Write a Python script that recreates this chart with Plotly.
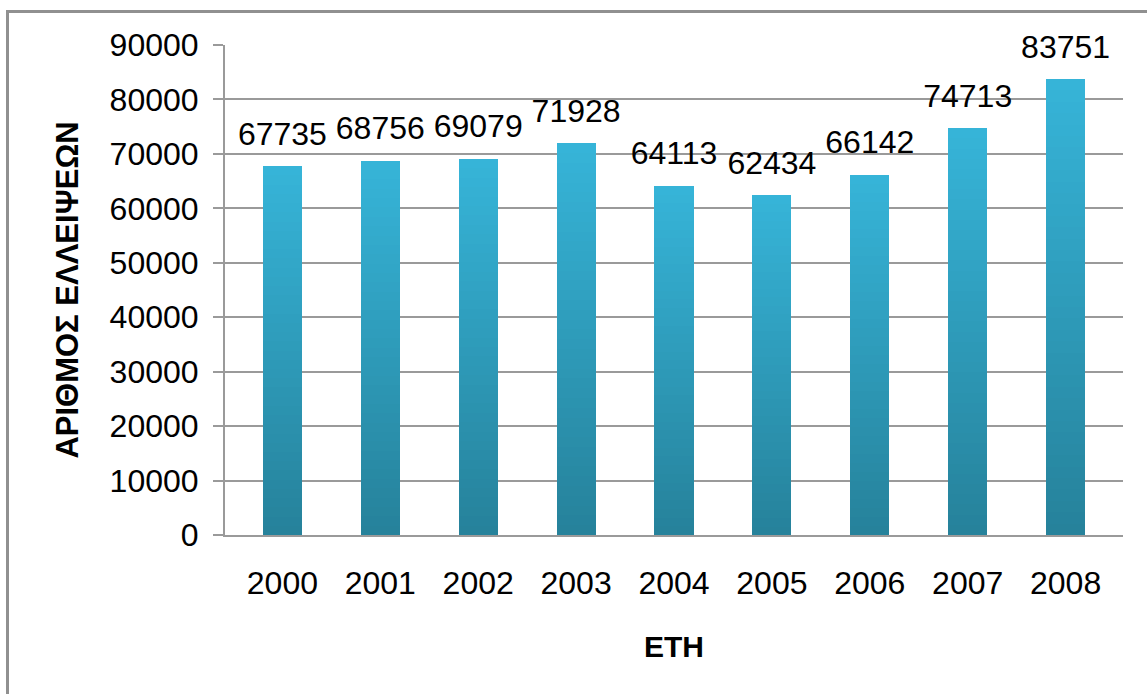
import plotly.graph_objects as go

years = ["2000", "2001", "2002", "2003", "2004", "2005", "2006", "2007", "2008"]
counts = [67735, 68756, 69079, 71928, 64113, 62434, 66142, 74713, 83751]

y_title = "ΑΡΙΘΜΟΣ ΕΛΛΕΙΨΕΩΝ"
x_title = "ΕΤΗ"

top_rgb = (54, 180, 216)
bot_rgb = (38, 130, 155)
N = 40

FONT = "Arial, Liberation Sans, sans-serif"

fig = go.Figure()

# gradient bars: each bar split into N stacked slices of equal share
for i in range(N):
    t = i / (N - 1)
    c = tuple(round(bot_rgb[k] + (top_rgb[k] - bot_rgb[k]) * t) for k in range(3))
    fig.add_trace(go.Bar(
        x=years, y=[v / N for v in counts],
        marker=dict(color=f"rgb{c}", line=dict(width=0)),
        hoverinfo="skip", showlegend=False,
    ))

fig.add_trace(go.Scatter(
    x=years, y=counts, mode="markers+text",
    text=[str(v) for v in counts], textposition="top center",
    marker=dict(size=20, opacity=0),
    textfont=dict(family=FONT, size=32, color="#000000"),
    cliponaxis=False, showlegend=False, hoverinfo="skip",
))

fig.update_layout(
    width=1147, height=694,
    margin=dict(l=225, r=24, t=45, b=159),
    barmode="stack", bargap=0.6,
    plot_bgcolor="white", paper_bgcolor="white",
    font=dict(family=FONT, color="#000000"),
    xaxis=dict(
        type="category", showgrid=False, showline=True, linecolor="#9a9a9a", linewidth=2,
        ticks="outside", ticklen=19, tickcolor="rgba(0,0,0,0)",
        tickfont=dict(size=32, family=FONT),
        title=dict(text=x_title, font=dict(size=30, family=FONT, weight="bold"), standoff=36),
    ),
    yaxis=dict(
        range=[0, 90000], dtick=10000, tickformat="d", showgrid=True, gridcolor="#9a9a9a", gridwidth=1.5,
        showline=True, linecolor="#9a9a9a", linewidth=2, zeroline=False,
        ticks="outside", ticklen=10, tickcolor="#9a9a9a", tickwidth=1.5,
        ticklabelstandoff=8,
        tickfont=dict(size=32, family=FONT),
        title=dict(text=y_title, font=dict(size=31, family=FONT, weight="bold"), standoff=22),
    ),
    shapes=[dict(type="rect", xref="paper", yref="paper",
                 x0=-225/898 + 6/898 + 1.5/898, x1=1.2, y0=-0.5, y1=1 + (45 - 11.5)/490,
                 line=dict(color="#909090", width=3), layer="below")],
)

fig.write_html("out.html")
